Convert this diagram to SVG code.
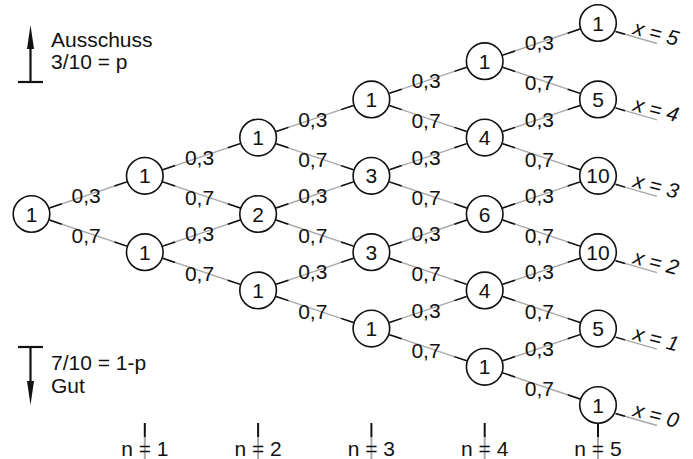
<svg xmlns="http://www.w3.org/2000/svg" xmlns:xlink="http://www.w3.org/1999/xlink" width="693" height="459" viewBox="0 0 693 459">
<style>
text{font-family:"Liberation Sans",Arial,sans-serif;font-size:21px;fill:#111}
.node circle{fill:#fff;stroke:#111;stroke-width:1.6}
.node text{text-anchor:middle}
.gray{stroke:#a8a8a8;stroke-width:1.4;fill:none}
.blk{stroke:#111;stroke-width:1.5;fill:none;stroke-dasharray:0 19 13 55.6 13 19}
.lbl{text-anchor:middle}
.xl{font-style:italic}
.tick{stroke-width:2}
.ax{stroke:#111;stroke-width:2.2}
</style>
<defs>
<marker id="arr" viewBox="0 0 24 7" refX="9" refY="3.5" markerWidth="24" markerHeight="7" markerUnits="userSpaceOnUse" orient="auto">
<path d="M0,0 L24,3.5 L0,7 z" fill="#111"/>
</marker>
<g id="edges">
<line x1="31.5" y1="214" x2="144.8" y2="175.8"/>
<line x1="31.5" y1="214" x2="144.8" y2="252.2"/>
<line x1="144.8" y1="175.8" x2="258.1" y2="137.6"/>
<line x1="144.8" y1="175.8" x2="258.1" y2="214"/>
<line x1="144.8" y1="252.2" x2="258.1" y2="214"/>
<line x1="144.8" y1="252.2" x2="258.1" y2="290.4"/>
<line x1="258.1" y1="137.6" x2="371.4" y2="99.4"/>
<line x1="258.1" y1="137.6" x2="371.4" y2="175.8"/>
<line x1="258.1" y1="214" x2="371.4" y2="175.8"/>
<line x1="258.1" y1="214" x2="371.4" y2="252.2"/>
<line x1="258.1" y1="290.4" x2="371.4" y2="252.2"/>
<line x1="258.1" y1="290.4" x2="371.4" y2="328.6"/>
<line x1="371.4" y1="99.4" x2="484.7" y2="61.2"/>
<line x1="371.4" y1="99.4" x2="484.7" y2="137.6"/>
<line x1="371.4" y1="175.8" x2="484.7" y2="137.6"/>
<line x1="371.4" y1="175.8" x2="484.7" y2="214"/>
<line x1="371.4" y1="252.2" x2="484.7" y2="214"/>
<line x1="371.4" y1="252.2" x2="484.7" y2="290.4"/>
<line x1="371.4" y1="328.6" x2="484.7" y2="290.4"/>
<line x1="371.4" y1="328.6" x2="484.7" y2="366.8"/>
<line x1="484.7" y1="61.2" x2="598" y2="23"/>
<line x1="484.7" y1="61.2" x2="598" y2="99.4"/>
<line x1="484.7" y1="137.6" x2="598" y2="99.4"/>
<line x1="484.7" y1="137.6" x2="598" y2="175.8"/>
<line x1="484.7" y1="214" x2="598" y2="175.8"/>
<line x1="484.7" y1="214" x2="598" y2="252.2"/>
<line x1="484.7" y1="290.4" x2="598" y2="252.2"/>
<line x1="484.7" y1="290.4" x2="598" y2="328.6"/>
<line x1="484.7" y1="366.8" x2="598" y2="328.6"/>
<line x1="484.7" y1="366.8" x2="598" y2="405"/>
</g>
</defs>
<rect width="693" height="459" fill="#fff"/>

<g id="connectors">
<use xlink:href="#edges" href="#edges" class="gray"/>
<use xlink:href="#edges" href="#edges" class="blk"/>
<g id="outcome-lines">
<line class="gray" x1="615.5" y1="31.5" x2="657" y2="43.5"/>
<line class="gray" x1="615.5" y1="107.9" x2="657" y2="119.9"/>
<line class="gray" x1="615.5" y1="184.3" x2="657" y2="196.3"/>
<line class="gray" x1="615.5" y1="260.7" x2="657" y2="272.7"/>
<line class="gray" x1="615.5" y1="337.1" x2="657" y2="349.1"/>
<line class="gray" x1="615.5" y1="413.5" x2="657" y2="425.5"/>
<g stroke="#111" stroke-width="1.5">
<line x1="615.5" y1="31.5" x2="625" y2="34.3"/>
<line x1="615.5" y1="107.9" x2="625" y2="110.7"/>
<line x1="615.5" y1="184.3" x2="625" y2="187.1"/>
<line x1="615.5" y1="260.7" x2="625" y2="263.5"/>
<line x1="615.5" y1="337.1" x2="625" y2="339.9"/>
<line x1="615.5" y1="413.5" x2="625" y2="416.3"/>
</g>
</g>
<g id="level-ticks">
<g stroke="#a8a8a8" class="tick">
<line x1="144.8" y1="437" x2="144.8" y2="459"/>
<line x1="258.1" y1="437" x2="258.1" y2="459"/>
<line x1="371.4" y1="437" x2="371.4" y2="459"/>
<line x1="484.7" y1="437" x2="484.7" y2="459"/>
<line x1="598" y1="437" x2="598" y2="459"/>
</g>
<g stroke="#111" class="tick">
<line x1="144.8" y1="423" x2="144.8" y2="437"/>
<line x1="258.1" y1="423" x2="258.1" y2="437"/>
<line x1="371.4" y1="423" x2="371.4" y2="437"/>
<line x1="484.7" y1="423" x2="484.7" y2="437"/>
<line x1="598" y1="423" x2="598" y2="437"/>
</g>
</g>
</g>

<g id="edge-labels" class="lbl">
<text x="86.2" y="203">0,3</text><text x="86.2" y="243">0,7</text>
<text x="199.5" y="164.8">0,3</text><text x="199.5" y="204.8">0,7</text>
<text x="199.5" y="241.2">0,3</text><text x="199.5" y="281.2">0,7</text>
<text x="312.8" y="126.6">0,3</text><text x="312.8" y="166.6">0,7</text>
<text x="312.8" y="203">0,3</text><text x="312.8" y="243">0,7</text>
<text x="312.8" y="279.4">0,3</text><text x="312.8" y="319.4">0,7</text>
<text x="426" y="88.4">0,3</text><text x="426" y="128.4">0,7</text>
<text x="426" y="164.8">0,3</text><text x="426" y="204.8">0,7</text>
<text x="426" y="241.2">0,3</text><text x="426" y="281.2">0,7</text>
<text x="426" y="317.6">0,3</text><text x="426" y="357.6">0,7</text>
<text x="539.4" y="50.2">0,3</text><text x="539.4" y="90.2">0,7</text>
<text x="539.4" y="126.6">0,3</text><text x="539.4" y="166.6">0,7</text>
<text x="539.4" y="203">0,3</text><text x="539.4" y="243">0,7</text>
<text x="539.4" y="279.4">0,3</text><text x="539.4" y="319.4">0,7</text>
<text x="539.4" y="355.8">0,3</text><text x="539.4" y="395.8">0,7</text>
</g>

<g id="n0-0" class="node"><circle cx="31.5" cy="214" r="18.3"/><text x="31.5" y="221.5">1</text></g>
<g id="n1-0" class="node"><circle cx="144.8" cy="175.8" r="18.3"/><text x="144.8" y="183.3">1</text></g>
<g id="n1-1" class="node"><circle cx="144.8" cy="252.2" r="18.3"/><text x="144.8" y="259.7">1</text></g>
<g id="n2-0" class="node"><circle cx="258.1" cy="137.6" r="18.3"/><text x="258.1" y="145.1">1</text></g>
<g id="n2-1" class="node"><circle cx="258.1" cy="214" r="18.3"/><text x="258.1" y="221.5">2</text></g>
<g id="n2-2" class="node"><circle cx="258.1" cy="290.4" r="18.3"/><text x="258.1" y="297.9">1</text></g>
<g id="n3-0" class="node"><circle cx="371.4" cy="99.4" r="18.3"/><text x="371.4" y="106.9">1</text></g>
<g id="n3-1" class="node"><circle cx="371.4" cy="175.8" r="18.3"/><text x="371.4" y="183.3">3</text></g>
<g id="n3-2" class="node"><circle cx="371.4" cy="252.2" r="18.3"/><text x="371.4" y="259.7">3</text></g>
<g id="n3-3" class="node"><circle cx="371.4" cy="328.6" r="18.3"/><text x="371.4" y="336.1">1</text></g>
<g id="n4-0" class="node"><circle cx="484.7" cy="61.2" r="18.3"/><text x="484.7" y="68.7">1</text></g>
<g id="n4-1" class="node"><circle cx="484.7" cy="137.6" r="18.3"/><text x="484.7" y="145.1">4</text></g>
<g id="n4-2" class="node"><circle cx="484.7" cy="214" r="18.3"/><text x="484.7" y="221.5">6</text></g>
<g id="n4-3" class="node"><circle cx="484.7" cy="290.4" r="18.3"/><text x="484.7" y="297.9">4</text></g>
<g id="n4-4" class="node"><circle cx="484.7" cy="366.8" r="18.3"/><text x="484.7" y="374.3">1</text></g>
<g id="n5-0" class="node"><circle cx="598" cy="23" r="18.3"/><text x="598" y="30.5">1</text></g>
<g id="n5-1" class="node"><circle cx="598" cy="99.4" r="18.3"/><text x="598" y="106.9">5</text></g>
<g id="n5-2" class="node"><circle cx="598" cy="175.8" r="18.3"/><text x="598" y="183.3">10</text></g>
<g id="n5-3" class="node"><circle cx="598" cy="252.2" r="18.3"/><text x="598" y="259.7">10</text></g>
<g id="n5-4" class="node"><circle cx="598" cy="328.6" r="18.3"/><text x="598" y="336.1">5</text></g>
<g id="n5-5" class="node"><circle cx="598" cy="405" r="18.3"/><text x="598" y="412.5">1</text></g>

<g id="outcome-labels" class="xl">
<text transform="translate(632,34) rotate(15)">x = 5</text>
<text transform="translate(632,110.4) rotate(15)">x = 4</text>
<text transform="translate(632,186.8) rotate(15)">x = 3</text>
<text transform="translate(632,263.2) rotate(15)">x = 2</text>
<text transform="translate(632,339.6) rotate(15)">x = 1</text>
<text transform="translate(632,416) rotate(15)">x = 0</text>
</g>

<g id="level-labels" class="lbl">
<text x="144.8" y="456">n = 1</text>
<text x="258.1" y="456">n = 2</text>
<text x="371.4" y="456">n = 3</text>
<text x="484.7" y="456">n = 4</text>
<text x="598" y="456">n = 5</text>
</g>

<g id="legend-up">
<line class="ax" x1="18" y1="82" x2="43" y2="82"/>
<line class="ax" x1="30.5" y1="82" x2="30.5" y2="40" marker-end="url(#arr)"/>
<text x="51" y="47">Ausschuss</text>
<text x="51" y="69">3/10 = p</text>
</g>
<g id="legend-down">
<line class="ax" x1="18" y1="347" x2="43" y2="347"/>
<line class="ax" x1="30.5" y1="347" x2="30.5" y2="390" marker-end="url(#arr)"/>
<text x="51" y="370">7/10 = 1-p</text>
<text x="51" y="393">Gut</text>
</g>
</svg>
